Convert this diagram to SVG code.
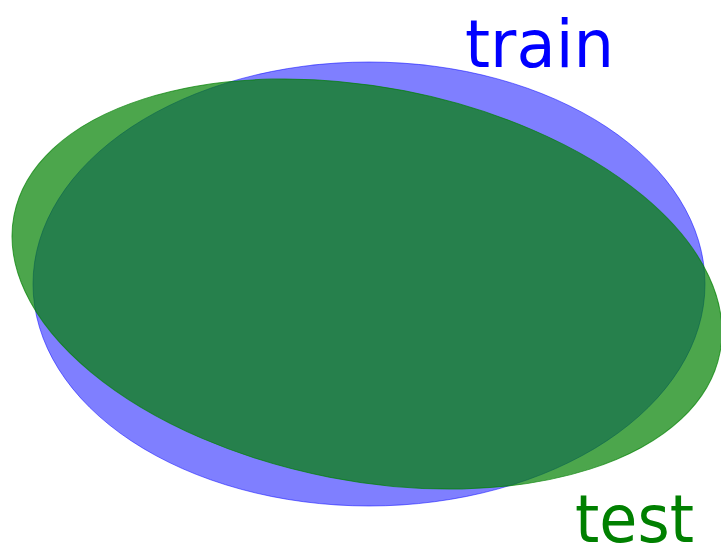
<svg xmlns="http://www.w3.org/2000/svg" width="721" height="547" viewBox="0 0 721 547">
  <style>
    .set-train { fill: #0000ff; fill-opacity: 0.5; stroke: #0000ff; stroke-opacity: 0.5; stroke-width: 1; }
    .set-test { fill: #008000; fill-opacity: 0.7; stroke: #008000; stroke-opacity: 0.7; stroke-width: 1; }
    .label { font-family: "DejaVu Sans", Verdana, sans-serif; font-size: 66px; }
  </style>
  <rect width="721" height="547" fill="#ffffff"/>
  <g id="train">
    <ellipse class="set-train" cx="369" cy="284" rx="336" ry="222"/>
    <text class="label" x="465" y="67" fill="#0000ff" textLength="149" lengthAdjust="spacingAndGlyphs">train</text>
  </g>
  <g id="test">
    <ellipse class="set-test" cx="367" cy="284" rx="359.6" ry="196.8" transform="rotate(11 367 284)"/>
    <text class="label" x="575" y="542" fill="#008000" textLength="119" lengthAdjust="spacingAndGlyphs">test</text>
  </g>
  <g id="connectors"></g>
</svg>
